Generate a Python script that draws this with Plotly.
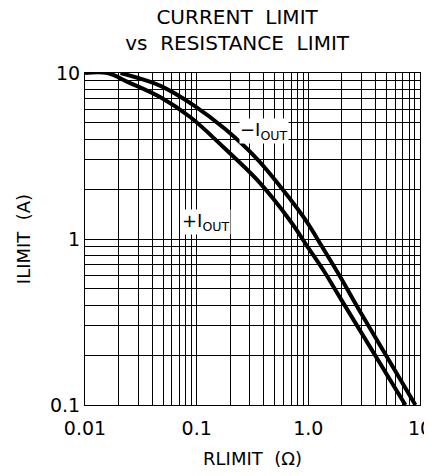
import plotly.graph_objects as go

# +IOUT curve (lower)
r_pos = [0.01, 0.0159, 0.024, 0.0474, 0.088, 0.174, 0.350, 0.692, 0.992, 1.365, 1.94, 7.40]
i_pos = [10, 10, 8.85, 7.14, 5.41, 3.57, 2.26, 1.28, 0.891, 0.648, 0.439, 0.1]
# -IOUT curve (upper)
r_neg = [0.0208, 0.0474, 0.0942, 0.181, 0.350, 0.692, 0.976, 1.337, 1.94, 2.93, 9.10]
i_neg = [10, 8.37, 6.39, 4.58, 3.02, 1.73, 1.26, 0.891, 0.588, 0.362, 0.1]

x_grid = [m * 10 ** e for e in (-2, -1, 0) for m in range(1, 10)] + [10]
x_labels = {0.01: "0.01", 0.1: "0.1", 1: "1.0", 10: "10"}
y_grid = [m * 10 ** e for e in (-1, 0) for m in range(1, 10)] + [10]
y_labels = {0.1: "0.1", 1: "1", 10: "10"}


def lab(v, d):
    for k, t in d.items():
        if abs(v - k) < 1e-9 * max(1, k):
            return t
    return ""


FONT = "DejaVu Sans"

fig = go.Figure()
for xs, ys in ((r_pos, i_pos), (r_neg, i_neg)):
    fig.add_trace(go.Scatter(x=xs, y=ys, mode="lines",
                             line=dict(color="black", width=4, shape="spline", smoothing=1.0),
                             showlegend=False, hoverinfo="skip"))

fig.add_annotation(x=-0.617, y=0.649, xref="x", yref="y", xanchor="left", yanchor="middle",
                   text="−I<sub>OUT</sub>", showarrow=False, borderpad=0,
                   bgcolor="white", font=dict(family=FONT, size=18, color="black"))
fig.add_annotation(x=-1.136, y=0.10, xref="x", yref="y", xanchor="left", yanchor="middle",
                   text="+I<sub>OUT</sub>", showarrow=False, borderpad=0,
                   bgcolor="white", font=dict(family=FONT, size=18, color="black"))

fig.update_layout(
    width=424, height=468,
    margin=dict(l=77, r=12, t=65, b=71),
    paper_bgcolor="white", plot_bgcolor="white",
    font=dict(family=FONT, size=19, color="black"),
    title=dict(text="CURRENT  LIMIT<br>vs  RESISTANCE  LIMIT",
               x=0.454, xref="paper", xanchor="center",
               y=1 - 16 / 468, yref="container", yanchor="middle",
               font=dict(family=FONT, size=20, color="black")),
)
fig.update_xaxes(type="log", range=[-2, 1],
                 tickmode="array", tickvals=x_grid,
                 ticktext=[lab(v, x_labels) for v in x_grid],
                 showgrid=True, gridcolor="black", gridwidth=1,
                 showline=True, linecolor="black", linewidth=1, mirror=True,
                 ticks="", ticklabelstandoff=6, zeroline=False, automargin=False,
                 ticklabeloverflow="allow",
                 tickfont=dict(family=FONT, size=19, color="black"),
                 title=dict(text="RLIMIT  (Ω)", standoff=14,
                            font=dict(family=FONT, size=18, color="black")))
fig.update_yaxes(type="log", range=[-1, 1],
                 tickmode="array", tickvals=y_grid,
                 ticktext=[lab(v, y_labels) for v in y_grid],
                 showgrid=True, gridcolor="black", gridwidth=1,
                 showline=True, linecolor="black", linewidth=1, mirror=True,
                 ticks="", ticklabelstandoff=0, zeroline=False, automargin=False,
                 ticklabeloverflow="allow",
                 tickfont=dict(family=FONT, size=19, color="black"),
                 title=dict(text="ILIMIT  (A)", standoff=14,
                            font=dict(family=FONT, size=18, color="black")))

fig.write_html("out.html")
